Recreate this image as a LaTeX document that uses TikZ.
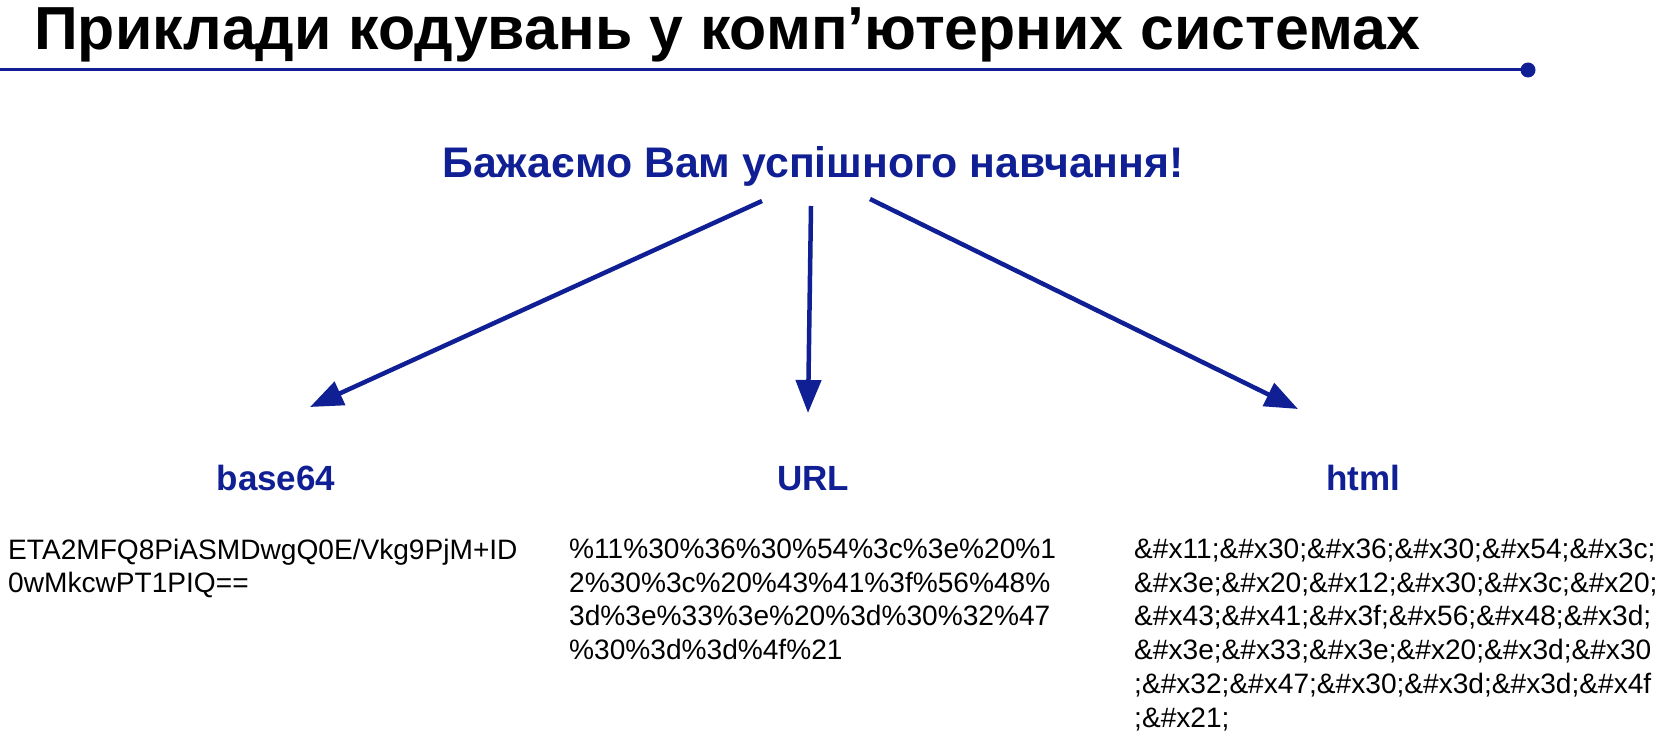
\documentclass[tikz,border=0pt]{standalone}
\usepackage{fontspec}
\setmainfont{Liberation Sans}
\usepackage{tikz}
\usetikzlibrary{arrows.meta,positioning}
\definecolor{navy}{RGB}{16, 32, 148}
\tikzstyle{headline} = [anchor=base west, inner sep=0pt, text=black, font=\fontsize{60.8}{70}\selectfont\bfseries]
\tikzstyle{motto} = [anchor=base, inner sep=0pt, text=navy, font=\fontsize{42.8}{50}\selectfont\bfseries]
\tikzstyle{codename} = [anchor=base, inner sep=0pt, text=navy, font=\fontsize{35}{40}\selectfont\bfseries]
\tikzstyle{codetext} = [anchor=north west, inner sep=0pt, align=left, text=black, font=\fontsize{28.1}{33.8}\selectfont]
\tikzstyle{cedge} = [draw=navy, line width=4.5pt, -{Triangle[length=33pt, width=25pt]}]

\begin{document}
\begin{tikzpicture}[x=1pt, y=-1pt]
\useasboundingbox (0,0) rectangle (1668,749);

% heading =============================
\node[headline] (title) at (34,50) {Приклади кодувань у комп’ютерних системах};
\coordinate (rulestart) at (0,70);
\coordinate (ruleend) at (1528,70);
\draw[navy, line width=3pt] (rulestart) -- (ruleend);
\fill[navy] (ruleend) circle (7.5);

% source text
\node[motto] (motto) at (813,177) {Бажаємо Вам успішного навчання!};

% encodings =============================
\node[codename] (base) at (276,490) {base64};
\node[codename] (url) at (813,490) {URL};
\node[codename] (html) at (1363,490) {html};

\node[codetext] (basecode) at (8,538.5) {ETA2MFQ8PiASMDwgQ0E/Vkg9PjM+ID\\0wMkcwPT1PIQ==};
\node[codetext] (urlcode) at (569,538.5) {\%11\%30\%36\%30\%54\%3c\%3e\%20\%1\\2\%30\%3c\%20\%43\%41\%3f\%56\%48\%\\3d\%3e\%33\%3e\%20\%3d\%30\%32\%47\\\%30\%3d\%3d\%4f\%21};
\node[codetext] (htmlcode) at (1134,538.5) {\&\#x11;\&\#x30;\&\#x36;\&\#x30;\&\#x54;\&\#x3c;\\\&\#x3e;\&\#x20;\&\#x12;\&\#x30;\&\#x3c;\&\#x20;\\\&\#x43;\&\#x41;\&\#x3f;\&\#x56;\&\#x48;\&\#x3d;\\\&\#x3e;\&\#x33;\&\#x3e;\&\#x20;\&\#x3d;\&\#x30\\;\&\#x32;\&\#x47;\&\#x30;\&\#x3d;\&\#x3d;\&\#x4f\\;\&\#x21;};

% edges
\coordinate (from base) at (762,201);
\coordinate (from url) at (811,206);
\coordinate (from html) at (870,199);
\coordinate (to base) at (310,407);
\coordinate (to url) at (808,413);
\coordinate (to html) at (1298,409);
\path[cedge] (from base) -- (to base);
\path[cedge] (from url) -- (to url);
\path[cedge] (from html) -- (to html);

\end{tikzpicture}
\end{document}
